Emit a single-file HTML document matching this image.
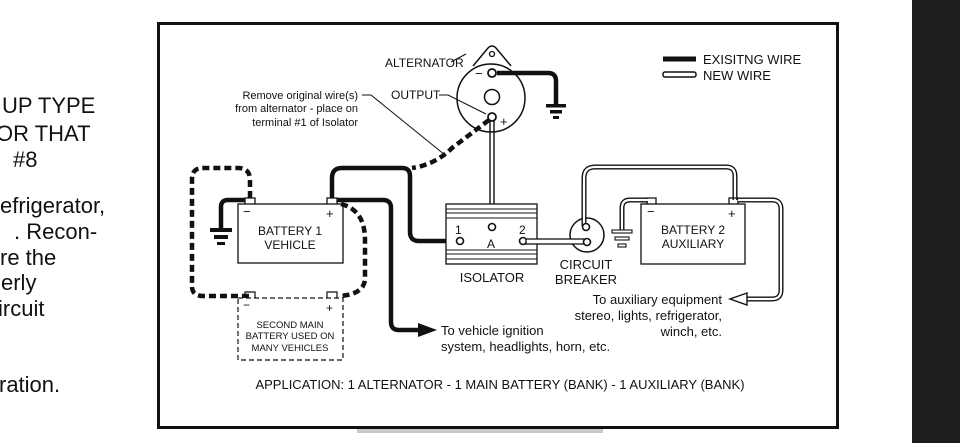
<!DOCTYPE html>
<html><head><meta charset="utf-8"><style>
html,body{margin:0;padding:0;background:#fff;}
svg{display:block;}
text{font-family:"Liberation Sans",Arial,sans-serif;fill:#111;}
</style></head><body>
<svg width="960" height="443" viewBox="0 0 960 443" xmlns="http://www.w3.org/2000/svg">
<rect x="0" y="0" width="960" height="443" fill="#fff"/>
<rect x="912" y="0" width="48" height="443" fill="#1e1e1f"/>
<rect x="357" y="429" width="246" height="4" fill="#c8c8c8"/>
<!-- left cut text -->
<g font-size="22">
<text x="2" y="113">UP TYPE</text>
<text x="-4" y="141">OR THAT</text>
<text x="13" y="167">#8</text>
<text x="0" y="213">efrigerator,</text>
<text x="14" y="239">. Recon-</text>
<text x="0" y="265">re the</text>
<text x="1" y="290">erly</text>
<text x="-2" y="316">ircuit</text>
<text x="-1" y="392">ration.</text>
</g>
<!-- frame -->
<rect x="158.5" y="23.5" width="679" height="404" fill="none" stroke="#111" stroke-width="3"/>

<!-- legend -->
<line x1="663" y1="59" x2="696" y2="59" stroke="#111" stroke-width="5"/>
<rect x="663" y="72" width="33" height="5" rx="2" fill="#fff" stroke="#111" stroke-width="1.5"/>
<text x="703" y="64" font-size="13">EXISITNG WIRE</text>
<text x="703" y="80" font-size="13">NEW WIRE</text>

<!-- alternator -->
<path d="M473 66 L488 48 Q492 44 496 48 L511 66" fill="none" stroke="#111" stroke-width="1.5"/>
<circle cx="491" cy="98" r="34" fill="none" stroke="#111" stroke-width="1.5"/>
<circle cx="492" cy="54" r="2.5" fill="none" stroke="#111" stroke-width="1.3"/>
<circle cx="492" cy="97" r="7.5" fill="none" stroke="#111" stroke-width="1.5"/>
<text x="475" y="78" font-size="13">−</text>
<text x="500" y="126" font-size="13">+</text>
<path d="M497 73 L548 73 Q556 73 556 81 L556 104" fill="none" stroke="#111" stroke-width="4.5"/>
<circle cx="492" cy="73" r="4" fill="#fff" stroke="#111" stroke-width="1.8"/>
<rect x="546" y="104" width="20" height="3.5" fill="#111"/>
<rect x="550" y="110" width="12" height="3.5" fill="#111"/>
<rect x="553" y="116" width="6" height="3" fill="#111"/>
<!-- output new wire down to A -->
<line x1="490" y1="119" x2="490" y2="224" stroke="#111" stroke-width="1.4"/>
<line x1="494" y1="119" x2="494" y2="224" stroke="#111" stroke-width="1.4"/>
<circle cx="492" cy="117" r="4" fill="#fff" stroke="#111" stroke-width="1.8"/>
<text x="385" y="67" font-size="12">ALTERNATOR</text>
<line x1="451" y1="62" x2="466" y2="54" stroke="#111" stroke-width="1"/>
<text x="391" y="99" font-size="12">OUTPUT</text>
<path d="M439 95 L448 95 L486 114" fill="none" stroke="#111" stroke-width="1"/>
<text x="358" y="99" font-size="11" text-anchor="end">Remove original wire(s)</text>
<text x="358" y="112" font-size="11" text-anchor="end">from alternator - place on</text>
<text x="358" y="126" font-size="11" text-anchor="end">terminal #1 of Isolator</text>
<path d="M362 95 L371 95 L445 155" fill="none" stroke="#111" stroke-width="1"/>

<!-- dashed from alternator + to junction -->
<path d="M489 120 L452 148 Q438 162 418 167 L412 168" fill="none" stroke="#111" stroke-width="4.5" stroke-dasharray="7 4"/>

<!-- battery 1 -->
<rect x="238" y="204" width="105" height="59" fill="#fff" stroke="#111" stroke-width="1.3"/>
<path d="M245 204 L245 198 L255 198 L255 204" fill="none" stroke="#111" stroke-width="1.3"/>
<path d="M327 204 L327 198 L337 198 L337 204" fill="none" stroke="#111" stroke-width="1.3"/>
<text x="243" y="216" font-size="13">−</text>
<text x="326" y="218" font-size="13">+</text>
<text x="290" y="235" font-size="12" text-anchor="middle">BATTERY 1</text>
<text x="290" y="249" font-size="12" text-anchor="middle">VEHICLE</text>
<!-- ground batt1 -->
<path d="M245 200 L228 200 Q221 200 221 207 L221 228" fill="none" stroke="#111" stroke-width="4.5"/>
<rect x="210" y="228" width="22" height="4" fill="#111"/>
<rect x="214" y="235" width="14" height="4" fill="#111"/>
<rect x="217" y="242" width="8" height="3" fill="#111"/>
<!-- solid + to isolator 1 -->
<path d="M332 198 L332 178 Q332 168 342 168 L402 168 Q410 168 410 176 L410 232 Q410 241 419 241 L456 241" fill="none" stroke="#111" stroke-width="4.5"/>
<!-- solid + to ignition -->
<path d="M337 200 L383 200 Q391 200 391 208 L391 322 Q391 330 399 330 L420 330" fill="none" stroke="#111" stroke-width="4.5"/>
<polygon points="418,323 437,330 418,337" fill="#111"/>
<text x="441" y="335" font-size="13">To vehicle ignition</text>
<text x="441" y="351" font-size="13">system, headlights, horn, etc.</text>
<!-- dashed loops -->
<path d="M250 198 L250 180 Q250 168 238 168 L203 168 Q192 168 192 179 L192 286 Q192 296 203 296 L250 296" fill="none" stroke="#111" stroke-width="4.5" stroke-dasharray="7 4"/>
<path d="M341 204 Q365 210 365 240 L365 278 Q365 294 340 296" fill="none" stroke="#111" stroke-width="4.5" stroke-dasharray="7 4"/>
<!-- second battery -->
<rect x="238" y="298" width="105" height="62" fill="#fff" stroke="#111" stroke-width="1.2" stroke-dasharray="5 3"/>
<path d="M245 298 L245 292 L255 292 L255 298" fill="none" stroke="#111" stroke-width="1.2"/>
<path d="M327 298 L327 292 L337 292 L337 298" fill="none" stroke="#111" stroke-width="1.2"/>
<text x="243" y="309" font-size="12">−</text>
<text x="326" y="312" font-size="12">+</text>
<text x="290" y="328" font-size="9.5" text-anchor="middle">SECOND MAIN</text>
<text x="290" y="339" font-size="9.5" text-anchor="middle">BATTERY USED ON</text>
<text x="290" y="351" font-size="9.5" text-anchor="middle">MANY VEHICLES</text>

<!-- isolator -->
<rect x="446" y="204" width="91" height="60" fill="#fff" stroke="#111" stroke-width="1.3"/>
<g stroke="#111" stroke-width="1">
<line x1="446" y1="209" x2="537" y2="209"/><line x1="446" y1="213" x2="537" y2="213"/><line x1="446" y1="218" x2="537" y2="218"/>
<line x1="446" y1="250" x2="537" y2="250"/><line x1="446" y1="254" x2="537" y2="254"/><line x1="446" y1="259" x2="537" y2="259"/>
</g>
<text x="455" y="234" font-size="12">1</text>
<text x="487" y="248" font-size="12">A</text>
<text x="519" y="234" font-size="12">2</text>
<circle cx="460" cy="241" r="3.5" fill="#fff" stroke="#111" stroke-width="1.6"/>
<circle cx="492" cy="227" r="3.5" fill="#fff" stroke="#111" stroke-width="1.6"/>
<circle cx="523" cy="241" r="3.5" fill="#fff" stroke="#111" stroke-width="1.6"/>
<text x="492" y="282" font-size="13" text-anchor="middle">ISOLATOR</text>
<!-- circuit breaker -->
<circle cx="587" cy="235" r="17" fill="#fff" stroke="#111" stroke-width="1.5"/>
<rect x="526" y="239" width="58" height="5" fill="#fff" stroke="#111" stroke-width="1.3"/>
<!-- new wire CB top to batt2 + -->
<path d="M584 226 L584 178 Q584 167 595 167 L726 167 Q735 167 735 176 L735 200" fill="none" stroke="#111" stroke-width="5"/>
<path d="M584 226 L584 178 Q584 167 595 167 L726 167 Q735 167 735 176 L735 200" fill="none" stroke="#fff" stroke-width="2.2"/>
<circle cx="586" cy="227" r="3.5" fill="#fff" stroke="#111" stroke-width="1.6"/>
<circle cx="587" cy="242" r="3.5" fill="#fff" stroke="#111" stroke-width="1.6"/>
<text x="586" y="269" font-size="13" text-anchor="middle">CIRCUIT</text>
<text x="586" y="284" font-size="13" text-anchor="middle">BREAKER</text>

<!-- battery 2 -->
<rect x="641" y="204" width="104" height="60" fill="#fff" stroke="#111" stroke-width="1.3"/>
<path d="M647 204 L647 198 L656 198 L656 204" fill="none" stroke="#111" stroke-width="1.3"/>
<path d="M729 204 L729 198 L738 198 L738 204" fill="none" stroke="#111" stroke-width="1.3"/>
<text x="647" y="216" font-size="13">−</text>
<text x="728" y="218" font-size="13">+</text>
<text x="693" y="234" font-size="12" text-anchor="middle">BATTERY 2</text>
<text x="693" y="248" font-size="12" text-anchor="middle">AUXILIARY</text>
<!-- ground batt2 new wire -->
<path d="M648 200 L630 200 Q622 200 622 208 L622 230" fill="none" stroke="#111" stroke-width="5"/>
<path d="M648 200 L630 200 Q622 200 622 208 L622 230" fill="none" stroke="#fff" stroke-width="2.2"/>
<rect x="612" y="230" width="20" height="3" fill="#fff" stroke="#111" stroke-width="1.1"/>
<rect x="615" y="237" width="14" height="3" fill="#fff" stroke="#111" stroke-width="1.1"/>
<rect x="618" y="244" width="8" height="3" fill="#fff" stroke="#111" stroke-width="1.1"/>
<!-- + to aux equipment -->
<path d="M738 200 L772 200 Q781 200 781 209 L781 290 Q781 299 772 299 L745 299" fill="none" stroke="#111" stroke-width="5"/>
<path d="M738 200 L772 200 Q781 200 781 209 L781 290 Q781 299 772 299 L745 299" fill="none" stroke="#fff" stroke-width="2.2"/>
<polygon points="747,293 730,299 747,305" fill="#fff" stroke="#111" stroke-width="1.4"/>
<text x="722" y="304" font-size="13" text-anchor="end">To auxiliary equipment</text>
<text x="722" y="320" font-size="13" text-anchor="end">stereo, lights, refrigerator,</text>
<text x="722" y="336" font-size="13" text-anchor="end">winch, etc.</text>

<text x="500" y="389" font-size="13" text-anchor="middle">APPLICATION: 1 ALTERNATOR - 1 MAIN BATTERY (BANK) - 1 AUXILIARY (BANK)</text>
</svg>
</body></html>
